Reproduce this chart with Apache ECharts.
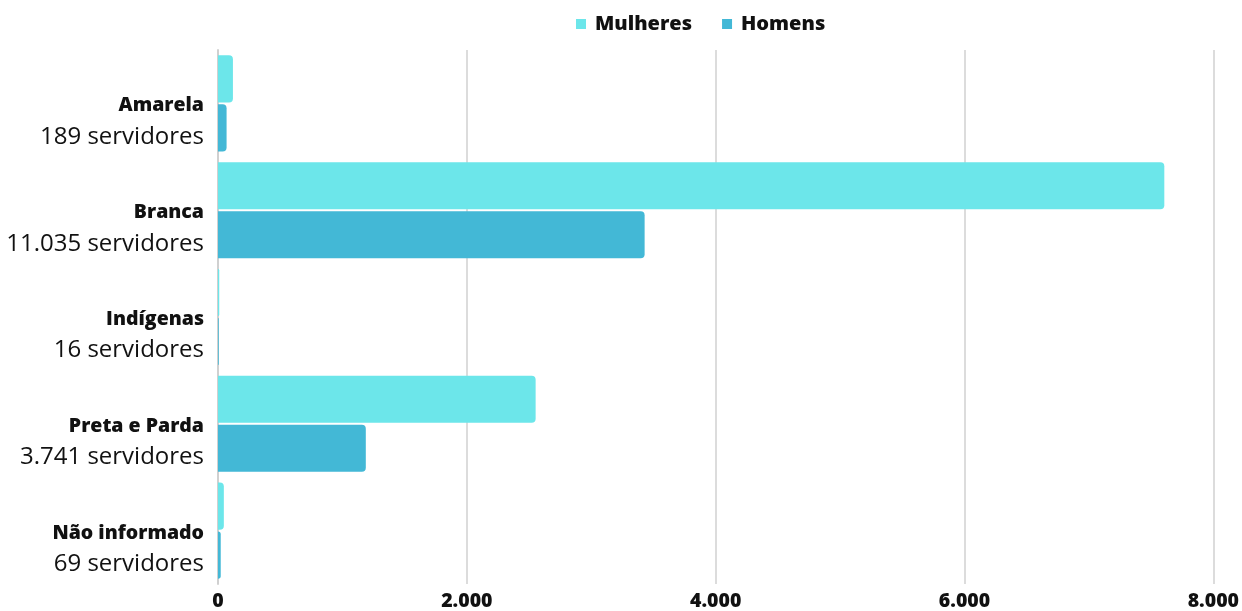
<!DOCTYPE html>
<html><head><meta charset="utf-8">
<script src="https://cdn.jsdelivr.net/npm/echarts@6/dist/echarts.min.js"></script>
<style>html,body{margin:0;padding:0;background:#fff}#c{width:1242px;height:611px}</style>
</head><body><div id="c"></div>
<script>
const categories = ['Amarela', 'Branca', 'Indígenas', 'Preta e Parda', 'Não informado'];
const totals = ['189', '11.035', '16', '3.741', '69'];
const mulheres = [120, 7606, 10, 2553, 47];
const homens = [69, 3429, 6, 1188, 22];
const xTicks = [0, 2000, 4000, 6000, 8000];

const chart = echarts.init(document.getElementById('c'));
const ff = '"Open Sans", "Noto Sans", sans-serif';
chart.setOption({
  animation: false,
  textStyle: { fontFamily: ff },
  legend: {
    top: 9, left: 571, itemWidth: 10, itemHeight: 10, itemGap: 30,
    icon: 'rect',
    textStyle: { fontFamily: ff, fontWeight: 800, fontSize: 20, color: '#111', padding: [0, 0, 0, 4] }
  },
  grid: { left: 218, right: 28, top: 50, bottom: 22, containLabel: false },
  xAxis: {
    type: 'value', min: 0, max: 8000, interval: 2000,
    axisLine: { show: false }, axisTick: { show: false },
    splitLine: { lineStyle: { color: '#dcdcdc', width: 2 } },
    axisLabel: {
      fontFamily: ff, fontWeight: 800, fontSize: 19.5, color: '#111', margin: 7,
      formatter: v => xTicks.includes(v) ? v.toLocaleString('de-DE') : ''
    }
  },
  yAxis: {
    type: 'category', data: categories, inverse: true,
    axisLine: { show: true, lineStyle: { color: '#d0d0d0', width: 2 } },
    axisTick: { show: false },
    axisLabel: {
      margin: 14,
      padding: [36, 0, 0, 0],
      formatter: (v, i) => '{b|' + v + '}\n{n|' + totals[i] + ' servidores}',
      rich: {
        b: { fontFamily: ff, fontWeight: 800, fontSize: 19.5, color: '#111', lineHeight: 31, align: 'right' },
        n: { fontFamily: ff, fontSize: 24, color: '#111', lineHeight: 31, align: 'right' }
      }
    }
  },
  series: [
    { name: 'Mulheres', type: 'bar', data: mulheres, barCategoryGap: '10%', barGap: '4%',
      itemStyle: { color: '#6ce6ea', borderRadius: [0, 4, 4, 0] } },
    { name: 'Homens', type: 'bar', data: homens,
      itemStyle: { color: '#43b8d6', borderRadius: [0, 4, 4, 0] } }
  ]
});
</script></body></html>
